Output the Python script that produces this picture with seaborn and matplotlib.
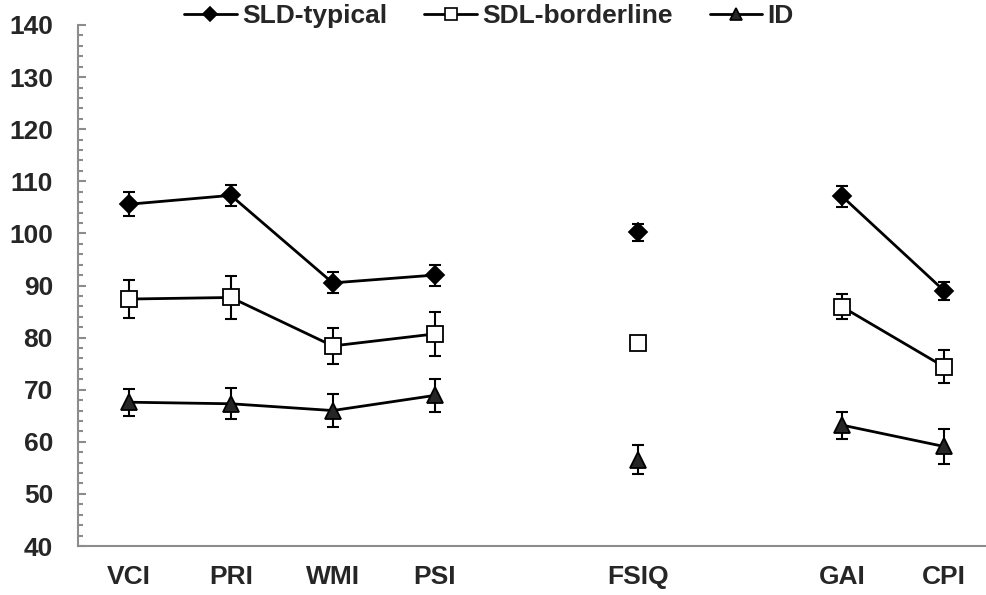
import numpy as np
import pandas as pd
import matplotlib
matplotlib.use("Agg")
import matplotlib.pyplot as plt
from matplotlib.lines import Line2D
import seaborn as sns

# ---- data ----
categories = ["VCI", "PRI", "WMI", "PSI", "FSIQ", "GAI", "CPI"]
cat_pos = [0, 1, 2, 3, 5, 7, 8]          # gaps between the index blocks
blocks = [[0, 1, 2, 3], [4], [5, 6]]      # indices joined by a line

groups = ["SLD-typical", "SDL-borderline", "ID"]
sld_mean = [105.6, 107.3, 90.5, 92.0, 100.2, 107.1, 89.0]
sld_err = [2.3, 2.0, 2.0, 2.0, 1.7, 2.0, 1.7]
sdl_mean = [87.4, 87.7, 78.4, 80.7, 79.0, 85.9, 74.4]
sdl_err = [3.7, 4.2, 3.4, 4.2, 0.6, 2.4, 3.2]
id_mean = [67.6, 67.3, 66.0, 68.9, 56.6, 63.2, 59.1]
id_err = [2.6, 3.0, 3.1, 3.1, 2.7, 2.6, 3.3]

means = {"SLD-typical": sld_mean, "SDL-borderline": sdl_mean, "ID": id_mean}
errs = {"SLD-typical": sld_err, "SDL-borderline": sdl_err, "ID": id_err}
styles = {
    "SLD-typical": dict(marker="D", mfc="black", mec="black", ms=9),
    "SDL-borderline": dict(marker="s", mfc="white", mec="black", ms=11),
    "ID": dict(marker="^", mfc="#262626", mec="black", ms=11),
}

sns.set_theme(style="white")
plt.rcParams["font.family"] = ["Liberation Sans", "DejaVu Sans"]
plt.rcParams["font.weight"] = "bold"

fig = plt.figure(figsize=(9.86, 5.95), dpi=100)
ax = fig.add_axes([78 / 986, 49 / 595, 917 / 986, 521 / 595])

for g in groups:
    df = pd.DataFrame({"x": cat_pos, "y": means[g], "err": errs[g]})
    st = styles[g]
    for b in blocks:
        seg = df.iloc[b]
        sns.lineplot(data=seg, x="x", y="y", ax=ax, color="black", linewidth=2,
                     marker=st["marker"], markersize=st["ms"],
                     markerfacecolor=st["mfc"], markeredgecolor=st["mec"],
                     markeredgewidth=1.3, zorder=3, sort=False)
    ax.errorbar(df["x"], df["y"], yerr=df["err"], fmt="none", ecolor="black",
                elinewidth=1.5, capsize=4.5, capthick=1.5, zorder=2)

ax.set_xlim(-0.5, 8.5)
ax.set_ylim(40, 140)
ax.set_yticks(np.arange(40, 141, 10))
ax.set_yticks(np.arange(40, 141, 2), minor=True)
ax.set_xticks(cat_pos)
ax.set_xticklabels(categories)
ax.set_xlabel("")
ax.set_ylabel("")

for lab in ax.get_xticklabels() + ax.get_yticklabels():
    lab.set_fontsize(19)
    lab.set_fontweight("bold")

axis_gray = "#8c8c8c"
for s in ["top", "right"]:
    ax.spines[s].set_visible(False)
for s in ["left", "bottom"]:
    ax.spines[s].set_color(axis_gray)
    ax.spines[s].set_linewidth(1.5)

ax.tick_params(axis="y", which="major", direction="in", length=6, width=1.5,
               color=axis_gray, left=True, pad=18)
ax.tick_params(axis="y", which="minor", direction="in", length=3.5, width=1.5,
               color=axis_gray, left=True)
ax.tick_params(axis="x", length=0, pad=14)
ax.grid(False)

handles = []
for g in groups:
    st = styles[g]
    handles.append(Line2D([0], [0], color="black", linewidth=2, marker=st["marker"],
                          markersize=st["ms"] * 0.75, markerfacecolor=st["mfc"],
                          markeredgecolor=st["mec"], markeredgewidth=1.2))
fig.legend(handles, groups, loc="center", bbox_to_anchor=(489 / 986, 1 - 16 / 595),
           ncol=3, frameon=False, handlelength=2.0, handletextpad=0.2,
           columnspacing=1.4, prop={"size": 19, "weight": "bold"})

fig.savefig("out.png", dpi=100)
